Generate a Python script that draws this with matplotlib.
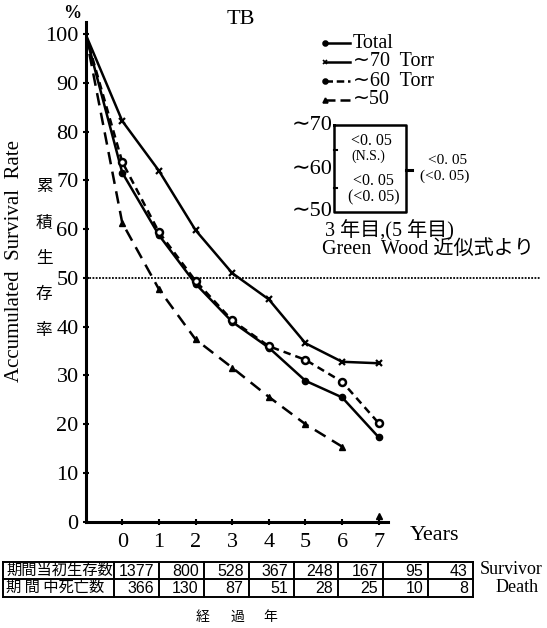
import matplotlib
matplotlib.use("Agg")
import matplotlib.pyplot as plt

# ---------------- data ----------------
years = [0, 1, 2, 3, 4, 5, 6, 7]
start_year = -1
start_rate = 100
total = [71.6, 58.8, 48.8, 41.0, 35.7, 28.9, 25.5, 17.3]
torr70 = [82.2, 72.0, 59.8, 51.0, 45.6, 36.6, 32.8, 32.5]
torr60 = [73.8, 59.4, 49.4, 41.3, 36.0, 33.2, 28.7, 20.2]
torr50_years = [0, 1, 2, 3, 4, 5, 6]
torr50 = [61.3, 47.7, 37.4, 31.6, 25.6, 20.0, 15.4]
torr50_last_year = 7
torr50_last = 1.2
yticks = [0, 10, 20, 30, 40, 50, 60, 70, 80, 90, 100]
survivors = [1377, 800, 528, 367, 248, 167, 95, 43]
deaths = [366, 130, 87, 51, 28, 25, 10, 8]
legend_labels = ["Total", "∼70  Torr", "∼60  Torr", "∼50"]

SERIF = ["Liberation Serif", "DejaVu Sans", "Noto Sans CJK JP"]
MIX = ["Liberation Serif", "Noto Sans CJK JP", "DejaVu Sans"]
CJK = ["Noto Sans CJK JP", "DejaVu Sans"]
NUM = ["Liberation Sans"]

W, H = 547, 628
fig = plt.figure(figsize=(W / 100, H / 100), dpi=100)
fig.patch.set_facecolor("white")

ax_left = 85.6 / W
ax_bottom = (H - 521.7) / H
ax_w = (540 - 85.6) / W
ax_h = (521.7 - 22) / H
ax = fig.add_axes([ax_left, ax_bottom, ax_w, ax_h])
ax.set_xlim(-1, 11.4)
ax.set_ylim(0, 102.5)
for s in ["top", "right"]:
    ax.spines[s].set_visible(False)
ax.spines["left"].set_linewidth(2.2)
ax.spines["bottom"].set_linewidth(2.2)
ax.spines["bottom"].set_bounds(-1, 7.25)
ax.spines["left"].set_bounds(0, 102.5)
ax.set_yticks(yticks)
ax.set_yticklabels([str(v) for v in yticks], fontfamily=SERIF, fontsize=16)
ax.set_xticks(years)
ax.set_xticklabels([str(v) for v in years], fontfamily=SERIF, fontsize=16)
ax.tick_params(axis="y", direction="inout", length=4, width=1.5, pad=3)
ax.tick_params(axis="x", direction="inout", length=4, width=1.5, pad=6)

ax.axhline(50, color="black", lw=1.3, ls=(0, (1, 0.8)), zorder=1)

lw = 1.8
ax.plot([start_year] + years, [start_rate] + total, color="black", lw=lw,
        marker="o", ms=4.5, markevery=list(range(1, 9)), zorder=3)
ax.plot([start_year] + years, [start_rate] + torr70, color="black", lw=lw,
        marker="x", ms=5, mew=1.6, markevery=list(range(1, 9)), zorder=3)
ax.plot([start_year] + years, [start_rate] + torr60, color="black", lw=lw,
        ls=(0, (3, 2)), marker="o", ms=5, mfc="white", mec="black", mew=1.8,
        markevery=list(range(1, 9)), zorder=3)
ax.plot([start_year] + torr50_years, [start_rate] + torr50, color="black", lw=lw,
        ls=(0, (5, 3)), marker="^", ms=4.5, markevery=list(range(1, 8)), zorder=3)
ax.plot([torr50_last_year], [torr50_last], color="black", marker="^", ms=4.5, ls="none")

# ---------------- overlay in pixel coordinates ----------------
ov = fig.add_axes([0, 0, 1, 1])
ov.set_xlim(0, W)
ov.set_ylim(H, 0)
ov.axis("off")

ov.text(72, 13, "%", fontsize=13, fontweight="bold", family=SERIF, ha="center", va="center")
ov.text(241, 19, "TB", fontsize=16, family=SERIF, ha="center", va="center")
ov.text(435, 536, "Years", fontsize=16, family=SERIF, ha="center", va="center")
ov.text(15, 261, "Accumulated  Survival  Rate", fontsize=15, family=SERIF,
        rotation=90, ha="center", va="center")
for i, ch in enumerate("累積生存率"):
    ov.text(44, 187 + i * 36, ch, fontsize=12, family=CJK, ha="center", va="center")

# legend
rows = [43, 62, 81, 100]
styles = [
    dict(ls="-", marker="o", mfc="black"),
    dict(ls="-", marker="x", mfc="black"),
    dict(ls=(0, (3, 1.5)), marker="o", mfc="black"),
    dict(ls=(0, (4, 2)), marker="^", mfc="black"),
]
for y, lab, st in zip(rows, legend_labels, styles):
    ov.plot([325, 350], [y, y], color="black", lw=1.8, ls=st["ls"])
    ov.plot([325], [y], color="black", marker=st["marker"], ms=3.5, mfc=st["mfc"],
            mec="black", mew=1.2, ls="none")
    ov.text(353, y, lab, fontsize=14.5, family=SERIF, ha="left", va="center")

# significance box
bx0, bx1, by0, by1 = 334, 406, 125, 212
ov.plot([bx0, bx1, bx1, bx0, bx0], [by0, by0, by1, by1, by0], color="black", lw=1.8)
ov.plot([bx1, bx1 + 6], [170, 170], color="black", lw=2.2)
ov.plot([bx0, bx0 + 3], [150, 150], color="black", lw=1.5)
ov.plot([bx0, bx0 + 3], [188, 188], color="black", lw=1.5)
for y, lab in [(125, "∼70"), (170, "∼60"), (212, "∼50")]:
    ov.text(bx0 - 1, y, lab, fontsize=16, family=SERIF, ha="right", va="center")
ov.text(371, 141, "<0. 05", fontsize=11.5, family=SERIF, ha="center", va="center")
ov.text(368, 156, "(N.S.)", fontsize=10, family=SERIF, ha="center", va="center")
ov.text(373, 181, "<0. 05", fontsize=11.5, family=SERIF, ha="center", va="center")
ov.text(374, 197, "(<0. 05)", fontsize=11.5, family=SERIF, ha="center", va="center")
ov.text(448, 161, "<0. 05", fontsize=11, family=SERIF, ha="center", va="center")
ov.text(445, 176, "(<0. 05)", fontsize=11, family=SERIF, ha="center", va="center")
ov.text(325, 231, "3 年目,(5 年目)", fontsize=14.5, family=MIX, ha="left", va="center")
ov.text(322, 250, "Green  Wood 近似式より", fontsize=14.5, family=MIX, ha="left", va="center")

# table
t_left, t_lab, t_right = 3, 114, 473
t_top, t_mid, t_bot = 561.5, 579, 596.5
ncol = len(survivors)
cw = (t_right - t_lab) / ncol
tl = dict(color="black", lw=1.4)
for y in (t_top, t_mid, t_bot):
    ov.plot([t_left, t_right], [y, y], **tl)
ov.plot([t_left, t_left], [t_top, t_bot], **tl)
for i in range(ncol + 1):
    x = t_lab + i * cw
    ov.plot([x, x], [t_top, t_bot], **tl)
ov.text(t_left + 3, (t_top + t_mid) / 2, "期間当初生存数", fontsize=11, family=CJK,
        ha="left", va="center")
ov.text(t_left + 3, (t_mid + t_bot) / 2, "期 間 中死亡数", fontsize=11, family=CJK,
        ha="left", va="center")
for i, (s, d) in enumerate(zip(survivors, deaths)):
    xr = t_lab + (i + 1) * cw - 5
    ov.text(xr, (t_top + t_mid) / 2 + 1, str(s), fontsize=11.5, family=NUM,
            ha="right", va="center")
    ov.text(xr, (t_mid + t_bot) / 2 + 1, str(d), fontsize=11.5, family=NUM,
            ha="right", va="center")
ov.text(511, 570, "Survivor", fontsize=13, family=SERIF, ha="center", va="center")
ov.text(517, 588, "Death", fontsize=13, family=SERIF, ha="center", va="center")
for x, ch in zip([203, 237, 270], "経過年"):
    ov.text(x, 617, ch, fontsize=10, family=CJK, ha="center", va="center")

fig.savefig("out.png", dpi=100, facecolor="white")
